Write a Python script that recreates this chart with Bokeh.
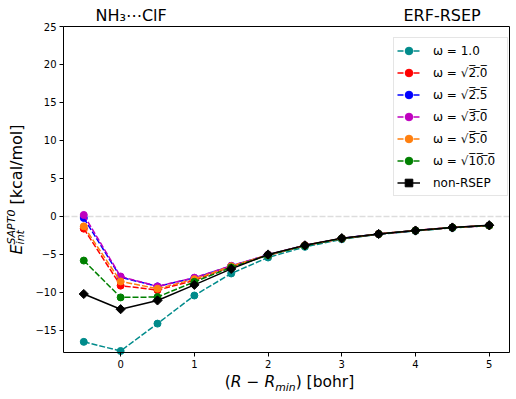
import math
from bokeh.plotting import figure
from bokeh.models import (Range1d, Label, Legend, LegendItem, FixedTicker, LinearAxis,
                          BoxAnnotation)
from bokeh.embed import file_html
from bokeh.resources import INLINE

# ---------------- data ----------------
x_vals = [-0.5, 0, 0.5, 1, 1.5, 2, 2.5, 3, 3.5, 4, 4.5, 5]

omega_1_0 = [-16.5, -17.7, -14.1, -10.4, -7.5, -5.4, -4.0, -3.0, -2.35, -1.9, -1.5, -1.2]
omega_2_0 = [-1.6, -9.1, -9.7, -8.4, -6.6, -5.1, -3.8, -2.9, -2.3, -1.85, -1.45, -1.2]
omega_2_5 = [-0.2, -8.0, -9.2, -8.1, -6.5, -5.05, -3.8, -2.9, -2.3, -1.85, -1.45, -1.2]
omega_3_0 = [0.2, -7.9, -9.2, -8.05, -6.5, -5.05, -3.8, -2.9, -2.3, -1.85, -1.45, -1.2]
omega_5_0 = [-1.3, -8.55, -9.5, -8.25, -6.55, -5.05, -3.8, -2.9, -2.3, -1.85, -1.45, -1.2]
omega_10_0 = [-5.8, -10.65, -10.6, -8.6, -6.7, -5.1, -3.85, -2.9, -2.3, -1.85, -1.45, -1.2]
non_rsep = [-10.2, -12.2, -11.05, -9.0, -6.9, -5.0, -3.8, -2.85, -2.3, -1.85, -1.45, -1.15]

x_ticks = [0, 1, 2, 3, 4, 5]
y_ticks = [-15, -10, -5, 0, 5, 10, 15, 20, 25]
y_tick_labels = ["\u221215", "\u221210", "\u22125", "0", "5", "10", "15", "20", "25"]

XMIN, XMAX = -0.775, 5.275
YMIN, YMAX = -17.9, 25.0


def ov(s):
    return "".join(c + "\u0305" for c in s)


series_labels = ["\u03c9 = 1.0", "\u03c9 = \u221a" + ov("2.0"), "\u03c9 = \u221a" + ov("2.5"),
                 "\u03c9 = \u221a" + ov("3.0"), "\u03c9 = \u221a" + ov("5.0"),
                 "\u03c9 = \u221a" + ov("10.0"), "non-RSEP"]
series_values = [omega_1_0, omega_2_0, omega_2_5, omega_3_0, omega_5_0, omega_10_0, non_rsep]
series_colors = ["#008b8b", "#ff0000", "#0000ff", "#bf00bf", "#ff7f0e", "#008000", "#000000"]

title_left = "NH\u2083\u22efClF"
title_right = "ERF-RSEP"

# ---------------- geometry (canvas pixels) ----------------
FONT = "DejaVu Sans"
W, H = 512, 396
BL, BR, BT, BB = 63, 509, 26, 352   # axes box edges
sx = (BR - BL) / (XMAX - XMIN)
sy = (BB - BT) / (YMAX - YMIN)
x_start = XMIN - BL / sx
x_end = XMAX + (W - BR) / sx
y_start = YMIN - (H - BB) / sy
y_end = YMAX + BT / sy

p = figure(width=W, height=H, output_backend="svg", toolbar_location=None,
           x_range=Range1d(x_start, x_end), y_range=Range1d(y_start, y_end),
           x_axis_location=None, y_axis_location=None,
           min_border_left=0, min_border_right=0, min_border_top=0, min_border_bottom=0)
p.grid.visible = False
p.outline_line_color = None
p.background_fill_color = "white"
p.border_fill_color = "white"

xaxis = LinearAxis(fixed_location=YMIN, ticker=FixedTicker(ticks=x_ticks),
                   major_label_overrides={t: str(t) for t in x_ticks})
yaxis = LinearAxis(fixed_location=XMIN, ticker=FixedTicker(ticks=y_ticks),
                   major_label_overrides={t: l for t, l in zip(y_ticks, y_tick_labels)})
for ax in (xaxis, yaxis):
    ax.minor_tick_line_color = None
    ax.major_tick_in = 0
    ax.major_tick_out = 4
    ax.major_tick_line_color = "black"
    ax.axis_line_color = None
    ax.major_label_text_font = FONT
    ax.major_label_text_font_size = "10px"
    ax.major_label_text_color = "black"
    ax.major_label_standoff = 3
p.add_layout(xaxis, "below")
p.add_layout(yaxis, "left")

# zero reference line across the axes box
p.segment(x0=[XMIN], x1=[XMAX], y0=[0], y1=[0], line_color="#dddddd", line_width=1.5,
          line_dash="6 2")

items = []
for lbl, ys, col in zip(series_labels, series_values, series_colors):
    if lbl == "non-RSEP":
        l = p.line(x_vals, ys, line_color=col, line_width=1.5)
        s = p.scatter(x_vals, ys, marker="square", angle=math.pi / 4, size=6.5,
                      fill_color=col, line_color=col)
    else:
        l = p.line(x_vals, ys, line_color=col, line_width=1.5, line_dash="6 2")
        s = p.scatter(x_vals, ys, marker="circle", size=7, fill_color=col, line_color=col)
    items.append(LegendItem(label=lbl, renderers=[l, s]))

# axes box (spines)
p.add_layout(BoxAnnotation(left=XMIN, right=XMAX, bottom=YMIN, top=YMAX, fill_alpha=0,
                           line_color="black", line_width=1, line_alpha=1))

legend = Legend(items=items, location=(393, H - 196), orientation="vertical",
                label_text_font=FONT, label_text_font_size="12px", label_text_color="black",
                glyph_width=23, glyph_height=19, label_height=19, spacing=3, padding=3,
                margin=0, label_standoff=13, label_width=71,
                border_line_color="#cccccc", border_line_width=1,
                background_fill_color="white", background_fill_alpha=0.8)
p.add_layout(legend)

# ---------------- text helpers ----------------
ADV = {" ": 651, "(": 799, ")": 799, "[": 799, "]": 799, "R": 1423, "\u2212": 1716,
       "m": 1995, "i": 569, "n": 1298, "b": 1300, "o": 1253, "h": 1298, "r": 842,
       "E": 1294, "S": 1300, "A": 1401, "P": 1235, "T": 1251, "0": 1303, "t": 803,
       "k": 1186, "c": 1126, "a": 1255, "l": 569, "/": 690}
SHIFT = 0.33  # label anchor sits this many em below the glyph baseline


def tw(s, size):
    return sum(ADV.get(c, 1200) for c in s) / 2048.0 * size


def lab(px, py, text, size, style="normal", angle=0.0):
    # px, py: canvas pixel position (from top-left) of the glyph baseline start
    if angle == 0.0:
        py = py - SHIFT * size
    else:
        px = px - SHIFT * size
    p.add_layout(Label(x=px, y=H - py, x_units="screen", y_units="screen", text=text,
                       angle=angle, text_font=FONT, text_font_size=f"{size}px",
                       text_font_style=style, text_color="black",
                       text_align="left", text_baseline="alphabetic"))


# titles
lab(95, 20, title_left, 16)
lab(403, 20, title_right, 16)

# x axis label: (R − R_min) [bohr]
F = 15.5
fs = F * 0.7
pieces = [("(", F, "normal", 0), ("R \u2212 R", F, "italic", 0), ("min", fs, "italic", 3.5),
          (") [bohr]", F, "normal", 0)]
total = sum(tw(t, s) for t, s, _, _ in pieces)
cx = 289 - total / 2
for t, s, st, dy in pieces:
    lab(cx, 387 + dy, t, s, st)
    cx += tw(t, s)

# y axis label: E_int^SAPT0 [kcal/mol] (rotated)
F2 = 16
fs2 = 11
ang = math.pi / 2
wE = tw("E", F2)
wsup = max(tw("SAPT0", fs2), tw("int", fs2))
wsp = tw(" ", F2)
wrest = tw("[kcal/mol]", F2)
Ltot = wE + wsup + wsp + wrest
start = (BT + BB) / 2 + Ltot / 2      # page y of the bottom end of the label
bx = 21
lab(bx, start, "E", F2, "italic", ang)
lab(bx - 6.5, start - wE, "SAPT0", fs2, "italic", ang)
lab(bx + 2.5, start - wE, "int", fs2, "italic", ang)
lab(bx, start - wE - wsup - wsp, "[kcal/mol]", F2, "normal", ang)

open("out.html", "w").write(file_html(p, INLINE))
